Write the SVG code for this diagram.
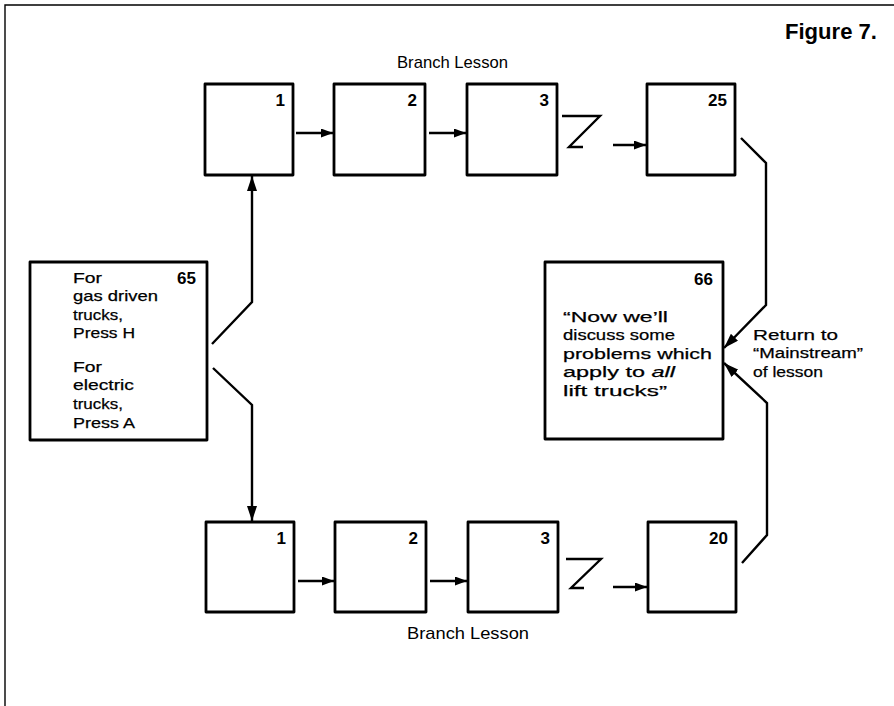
<svg xmlns="http://www.w3.org/2000/svg" width="894" height="706" viewBox="0 0 894 706">
<defs>
<style>
.box{fill:#fff;stroke:#000;stroke-width:2.8;stroke-linejoin:round}
.ln{fill:none;stroke:#000;stroke-width:2.4;stroke-linejoin:miter}
.frame{fill:none;stroke:#000;stroke-width:1.4}
.num{font-family:"Liberation Sans",Arial,sans-serif;font-weight:bold;font-size:17px;text-anchor:end;fill:#000}
.txt{font-family:"Liberation Sans",Arial,sans-serif;font-size:15.5px;fill:#000;stroke:#000;stroke-width:0.25}
.cap{font-family:"Liberation Sans",Arial,sans-serif;font-size:17px;fill:#000}
</style>
<marker id="ah" viewBox="0 0 12 9" refX="12" refY="4.5" markerWidth="12" markerHeight="9" markerUnits="userSpaceOnUse" orient="auto">
<path d="M0,0 L12,4.5 L0,9 z" fill="#000"/>
</marker>
<marker id="ahb" viewBox="0 0 15 10" refX="15" refY="5" markerWidth="15" markerHeight="10" markerUnits="userSpaceOnUse" orient="auto">
<path d="M0,0 L15,5 L0,10 z" fill="#000"/>
</marker>
</defs>
<rect width="894" height="706" fill="#fff"/>
<path class="frame" d="M5,706 L5,5 L894,5"/>
<text x="785" y="39" font-family="'Liberation Sans',Arial,sans-serif" font-weight="bold" font-size="22" textLength="92" lengthAdjust="spacingAndGlyphs">Figure 7.</text>
<text class="cap" x="397" y="68" textLength="111" lengthAdjust="spacingAndGlyphs">Branch Lesson</text>
<text class="cap" x="407" y="639" textLength="122" lengthAdjust="spacingAndGlyphs">Branch Lesson</text>

<g id="connectors">
<path class="ln" d="M296,133 L333,133" marker-end="url(#ah)"/>
<path class="ln" d="M429,133 L466,133" marker-end="url(#ah)"/>
<path class="ln" d="M562,116 L600,116 L569,147 L583,147"/>
<path class="ln" d="M613,145 L646,145" marker-end="url(#ah)"/>
<path class="ln" d="M298,581 L334,581" marker-end="url(#ah)"/>
<path class="ln" d="M430,581 L467,581" marker-end="url(#ah)"/>
<path class="ln" d="M566,559 L601,559 L571,588 L584,588"/>
<path class="ln" d="M613,587 L647,587" marker-end="url(#ah)"/>
<path class="ln" d="M212,344 L252,302 L252,176" marker-end="url(#ahb)"/>
<path class="ln" d="M213,368 L252,405 L252,521" marker-end="url(#ahb)"/>
<path class="ln" d="M741,138 L766,163 L766,305 L724,348" marker-end="url(#ahb)"/>
<path class="ln" d="M742,563 L767,535 L767,403 L724,363" marker-end="url(#ahb)"/>
</g>

<g id="t1"><rect class="box" x="205" y="84" width="88" height="91"/><text class="num" x="285" y="106">1</text></g>
<g id="t2"><rect class="box" x="334" y="84" width="91" height="91"/><text class="num" x="417" y="106">2</text></g>
<g id="t3"><rect class="box" x="467" y="84" width="90" height="91"/><text class="num" x="549" y="106">3</text></g>
<g id="t25"><rect class="box" x="647" y="84" width="88" height="91"/><text class="num" x="727" y="106">25</text></g>

<g id="b1"><rect class="box" x="206" y="522" width="88" height="90"/><text class="num" x="286" y="544">1</text></g>
<g id="b2"><rect class="box" x="335" y="522" width="91" height="90"/><text class="num" x="418" y="544">2</text></g>
<g id="b3"><rect class="box" x="468" y="522" width="90" height="90"/><text class="num" x="550" y="544">3</text></g>
<g id="b20"><rect class="box" x="648" y="522" width="88" height="90"/><text class="num" x="728" y="544">20</text></g>

<g id="n65">
<rect class="box" x="30" y="262" width="177" height="178"/>
<text class="num" x="196" y="284">65</text>
<text class="txt" x="73" y="283" textLength="29" lengthAdjust="spacingAndGlyphs">For</text>
<text class="txt" x="73" y="301" textLength="85" lengthAdjust="spacingAndGlyphs">gas driven</text>
<text class="txt" x="73" y="320" textLength="50" lengthAdjust="spacingAndGlyphs">trucks,</text>
<text class="txt" x="73" y="338" textLength="62" lengthAdjust="spacingAndGlyphs">Press H</text>
<text class="txt" x="73" y="372" textLength="29" lengthAdjust="spacingAndGlyphs">For</text>
<text class="txt" x="73" y="390" textLength="61" lengthAdjust="spacingAndGlyphs">electric</text>
<text class="txt" x="73" y="409" textLength="50" lengthAdjust="spacingAndGlyphs">trucks,</text>
<text class="txt" x="73" y="428" textLength="62" lengthAdjust="spacingAndGlyphs">Press A</text>
</g>

<g id="n66">
<rect class="box" x="545" y="262" width="178" height="177"/>
<text class="num" x="713" y="285">66</text>
<text class="txt" x="563" y="322" textLength="105" lengthAdjust="spacingAndGlyphs">“Now we’ll</text>
<text class="txt" x="563" y="340" textLength="112" lengthAdjust="spacingAndGlyphs">discuss some</text>
<text class="txt" x="563" y="359" textLength="149" lengthAdjust="spacingAndGlyphs">problems which</text>
<text class="txt" x="563" y="377" textLength="112" lengthAdjust="spacingAndGlyphs">apply to <tspan font-style="italic">all</tspan></text>
<text class="txt" x="563" y="396" textLength="104" lengthAdjust="spacingAndGlyphs">lift trucks”</text>
</g>

<g id="return-label">
<text class="txt" x="753" y="340" textLength="85" lengthAdjust="spacingAndGlyphs">Return to</text>
<text class="txt" x="753" y="358" textLength="110" lengthAdjust="spacingAndGlyphs">“Mainstream”</text>
<text class="txt" x="753" y="377" textLength="70" lengthAdjust="spacingAndGlyphs">of lesson</text>
</g>
</svg>
